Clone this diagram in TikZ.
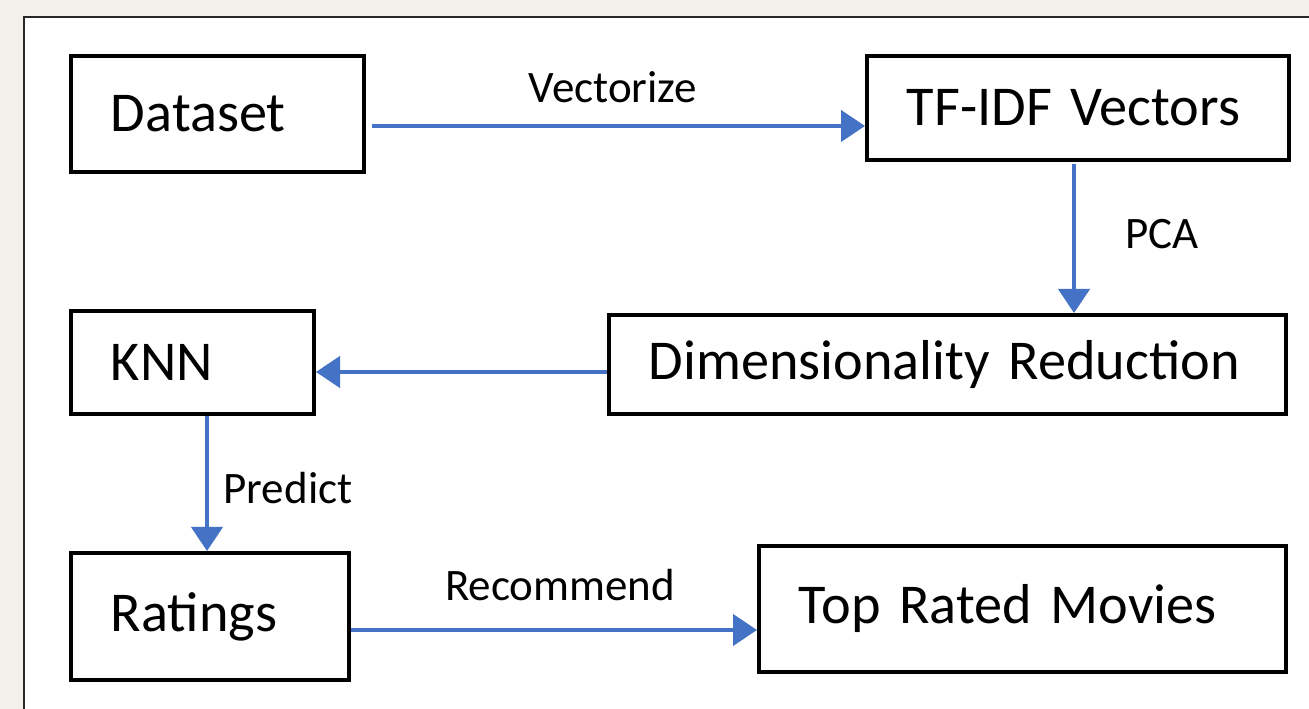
\documentclass[tikz,border=0pt]{standalone}
\usepackage{fontspec}
\setmainfont{Carlito}[WordSpace=0.75]
\usepackage{tikz}
\usetikzlibrary{arrows.meta, positioning, calc}
\usepackage{xcolor}
\definecolor{flowblue}{RGB}{68,114,196}
\definecolor{pagebg}{RGB}{243,240,234}
\definecolor{framegray}{RGB}{40,40,40}

\begin{document}
\begin{tikzpicture}[x=0.025cm, y=-0.025cm,
    stagebox/.style={draw=black, line width=2.8pt, fill=white, anchor=north west,
      inner xsep=1cm, align=left, font=\fontsize{40}{46}\selectfont},
    flow/.style={flowblue, line width=2.6pt, -{Triangle[length=0.6cm, width=0.78cm]}},
    lbl/.style={anchor=base, inner sep=0pt, font=\fontsize{32}{38}\selectfont}]
  \useasboundingbox (0,0) rectangle (1309,709);
  % Page and frame
  \fill[pagebg] (0,0) rectangle (1309,709);
  \draw[framegray, line width=1.5pt, fill=white] (24,17) rectangle (1340,740);
  % Boxes
  \node[stagebox, text width=5.325cm, minimum height=2.9cm] (ds) at (69,54) {Dataset};
  \node[stagebox, text width=8.55cm, minimum height=2.6cm] (tf) at (865,54) {TF-IDF Vectors};
  \node[stagebox, text width=14.925cm, minimum height=2.475cm] (dr) at (607,313) {Dimensionality Reduction};
  \node[stagebox, text width=4.075cm, minimum height=2.575cm] (kn) at (69,309) {KNN};
  \node[stagebox, text width=4.95cm, minimum height=3.175cm] (ra) at (69,551) {Ratings};
  \node[stagebox, text width=11.175cm, minimum height=3.15cm] (tm) at (757,544) {Top Rated Movies};
  % Arrows
  \draw[flow] ([shift={(6,12)}]ds.east) coordinate (a1) -- (a1 -| tf.west);
  \draw[flow] ([shift={(-4,2)}]tf.south) coordinate (a2) -- (a2 |- dr.north);
  \draw[flow] ([shift={(0,7.5)}]dr.west) coordinate (a3) -- (a3 -| kn.east);
  \draw[flow] ([shift={(14.5,0)}]kn.south) coordinate (a4) -- (a4 |- ra.north);
  \draw[flow] ([shift={(0,13.5)}]ra.east) coordinate (a5) -- (a5 -| tm.west);
  % Labels
  \node[lbl] (vec) at (613,103) {Vectorize};
  \node[lbl] (pca) at (1162,248) {PCA};
  \node[lbl] (pre) at (288,503) {Predict};
  \node[lbl] (rec) at (560,600) {Recommend};
\end{tikzpicture}
\end{document}
